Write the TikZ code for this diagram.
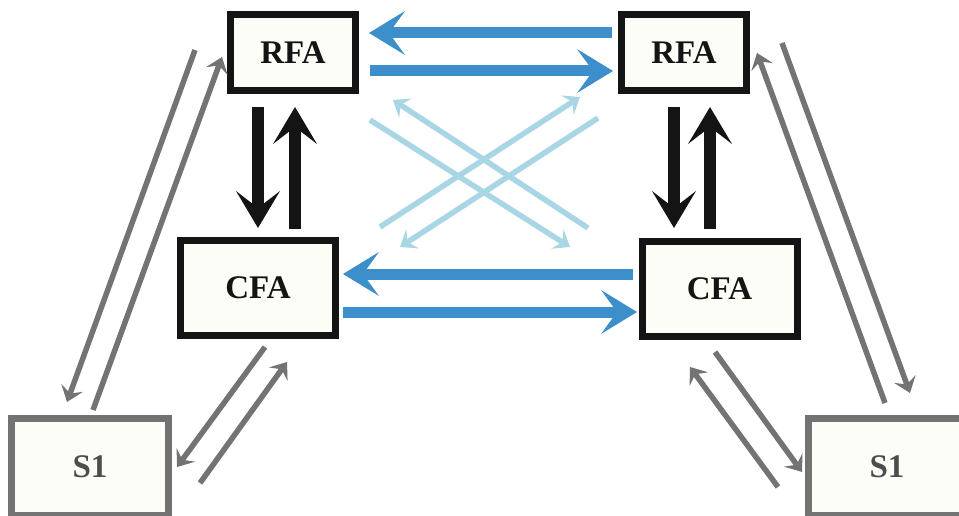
\documentclass[tikz,border=0pt]{standalone}
\usepackage{fontspec}
\setmainfont{Liberation Serif}
\usetikzlibrary{arrows.meta}
\definecolor{bblue}{HTML}{3D8FCB}
\definecolor{lblue}{HTML}{A8D6E4}
\definecolor{ggray}{HTML}{737373}
\definecolor{kblack}{HTML}{141414}
\definecolor{boxfill}{HTML}{FDFDF7}
\definecolor{stext}{HTML}{4D4D4D}
\tikzset{
  mainbox/.style={draw=kblack, line width=7pt, fill=boxfill, inner sep=0pt,
    font=\fontsize{33}{33}\selectfont\bfseries, text=kblack},
  rfabox/.style={mainbox, minimum width=125pt, minimum height=76pt},
  cfabox/.style={mainbox, minimum width=155pt, minimum height=95pt},
  sbox/.style={mainbox, draw=ggray, text=stext, minimum width=157pt, minimum height=97pt},
  bluearr/.style={draw=bblue, line width=11pt,
    -{Stealth[length=36pt, width=44pt, inset=16pt, line width=0pt]}},
  blackarr/.style={draw=kblack, line width=12pt,
    -{Stealth[length=37pt, width=44pt, inset=17pt, line width=0pt]}},
  lightarr/.style={draw=lblue, line width=5.5pt,
    -{Stealth[length=15pt, width=23pt, inset=6pt, line width=0pt]}},
  grayarr/.style={draw=ggray, line width=5.5pt,
    -{Stealth[length=15pt, width=23pt, inset=6pt, line width=0pt]}},
}
\begin{document}
\begin{tikzpicture}[x=1pt, y=-1pt]
\useasboundingbox (0,0) rectangle (959,516);
\clip (0,0) rectangle (959,516);
\fill[white] (0,0) rectangle (959,516);

% boxes
\node[rfabox] (rfaL) at (293,52.5) {RFA};
\node[rfabox] (rfaR) at (684,52.5) {RFA};
\node[cfabox] (cfaL) at (258,288) {CFA};
\node[cfabox] (cfaR) at (719.5,288.5) {CFA};
\node[sbox] (s1L) at (90,467) {S1};
\node[sbox] (s1R) at (887,467) {S1};

% coordinates for arrow ends
\coordinate (bt1a) at (612,33);  \coordinate (bt1b) at (369,33);
\coordinate (bt2a) at (370,71);  \coordinate (bt2b) at (613,71);
\coordinate (bm1a) at (633,274); \coordinate (bm1b) at (343,274);
\coordinate (bm2a) at (343,312); \coordinate (bm2b) at (637,312);

\coordinate (kl1a) at (258,107); \coordinate (kl1b) at (258,228);
\coordinate (kl2a) at (295,229); \coordinate (kl2b) at (295,107);
\coordinate (kr1a) at (674,107); \coordinate (kr1b) at (674,228);
\coordinate (kr2a) at (710,229); \coordinate (kr2b) at (710,107);

\coordinate (lx1a) at (370,120); \coordinate (lx1b) at (570,247);
\coordinate (lx2a) at (588,228); \coordinate (lx2b) at (393,100);
\coordinate (lx3a) at (380,227); \coordinate (lx3b) at (580,97);
\coordinate (lx4a) at (598,118); \coordinate (lx4b) at (400,247);

\coordinate (g1a) at (195,50);  \coordinate (g1b) at (67,402);
\coordinate (g2a) at (93,410);  \coordinate (g2b) at (222,57);
\coordinate (g3a) at (265,347); \coordinate (g3b) at (177,467);
\coordinate (g4a) at (200,483); \coordinate (g4b) at (287,362);
\coordinate (g5a) at (782,43);  \coordinate (g5b) at (910,393);
\coordinate (g6a) at (885,403); \coordinate (g6b) at (757,53);
\coordinate (g7a) at (715,352); \coordinate (g7b) at (802,472);
\coordinate (g8a) at (778,487); \coordinate (g8b) at (690,367);

% light blue cross arrows
\draw[lightarr] (lx1a) -- (lx1b);
\draw[lightarr] (lx2a) -- (lx2b);
\draw[lightarr] (lx3a) -- (lx3b);
\draw[lightarr] (lx4a) -- (lx4b);

% blue arrows
\draw[bluearr] (bt1a) -- (bt1b);
\draw[bluearr] (bt2a) -- (bt2b);
\draw[bluearr] (bm1a) -- (bm1b);
\draw[bluearr] (bm2a) -- (bm2b);

% black arrows
\draw[blackarr] (kl1a) -- (kl1b);
\draw[blackarr] (kl2a) -- (kl2b);
\draw[blackarr] (kr1a) -- (kr1b);
\draw[blackarr] (kr2a) -- (kr2b);

% gray arrows
\draw[grayarr] (g1a) -- (g1b);
\draw[grayarr] (g2a) -- (g2b);
\draw[grayarr] (g3a) -- (g3b);
\draw[grayarr] (g4a) -- (g4b);
\draw[grayarr] (g5a) -- (g5b);
\draw[grayarr] (g6a) -- (g6b);
\draw[grayarr] (g7a) -- (g7b);
\draw[grayarr] (g8a) -- (g8b);
\end{tikzpicture}
\end{document}
